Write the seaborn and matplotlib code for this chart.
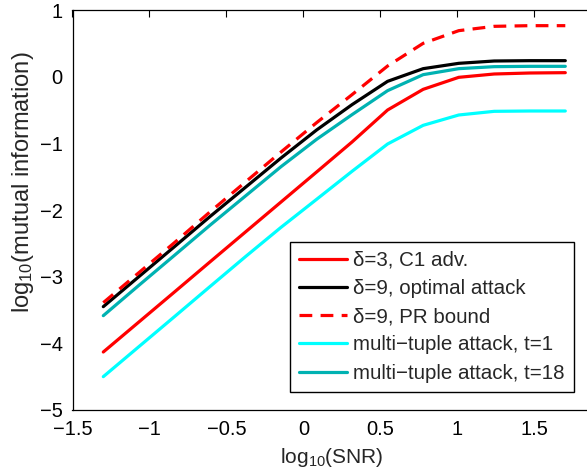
import numpy as np
import pandas as pd
import matplotlib
matplotlib.use("Agg")
import matplotlib.pyplot as plt
import seaborn as sns

# log10(SNR) grid shared by all curves
log_snr = [-1.3, -1.069, -0.838, -0.608, -0.377, -0.146, 0.085,
           0.315, 0.546, 0.777, 1.008, 1.238, 1.469, 1.7]

# log10(mutual information) for each scheme
c1_delta3 = [-4.13, -3.68, -3.23, -2.78, -2.33, -1.88, -1.43,
             -0.98, -0.50, -0.19, -0.01, 0.04, 0.055, 0.06]
opt_delta9 = [-3.45, -3.00, -2.55, -2.10, -1.66, -1.22, -0.80,
              -0.42, -0.07, 0.12, 0.20, 0.235, 0.24, 0.24]
pr_bound_delta9 = [-3.39, -2.94, -2.49, -2.03, -1.58, -1.13, -0.69,
                   -0.27, 0.16, 0.50, 0.69, 0.755, 0.765, 0.765]
multi_t1 = [-4.50, -4.05, -3.60, -3.15, -2.70, -2.26, -1.84,
            -1.42, -1.01, -0.73, -0.575, -0.52, -0.515, -0.515]
multi_t18 = [-3.585, -3.13, -2.68, -2.23, -1.79, -1.35, -0.94,
             -0.57, -0.21, 0.03, 0.12, 0.15, 0.155, 0.155]

labels = ["δ=3, C1 adv.", "δ=9, optimal attack", "δ=9, PR bound",
          "multi\u2212tuple attack, t=1", "multi\u2212tuple attack, t=18"]
series = [c1_delta3, opt_delta9, pr_bound_delta9, multi_t1, multi_t18]
colors = ["#ff0000", "#000000", "#ff0000", "#00ffff", "#00b2b2"]
dashed = [False, False, True, False, False]

sns.set_style("white")
plt.rcParams["font.family"] = ["Liberation Sans", "DejaVu Sans"]
plt.rcParams["mathtext.fontset"] = "custom"
plt.rcParams["mathtext.rm"] = "Liberation Sans"
plt.rcParams["mathtext.default"] = "regular"

df = pd.concat(
    [pd.DataFrame({"snr": log_snr, "mi": vals, "scheme": lab})
     for lab, vals in zip(labels, series)],
    ignore_index=True,
)

fig = plt.figure(figsize=(5.87, 4.70), dpi=100)
ax = fig.add_axes([72.5 / 587, 60 / 470, (592 - 72.5) / 587, 400 / 470])

lw = 2.3
for lab, col, dsh in zip(labels, colors, dashed):
    sub = df[df["scheme"] == lab]
    sns.lineplot(data=sub, x="snr", y="mi", ax=ax, color=col, lw=lw,
                 label=lab, sort=False, estimator=None)
    if dsh:
        ax.lines[-1].set_dashes((4.0, 2.6))

ax.set_xlim(-1.5, -1.5 + (592 - 72.5) / 154)
ax.set_ylim(-5, 1)
ax.set_xticks([-1.5, -1, -0.5, 0, 0.5, 1, 1.5])
ax.set_xticklabels(["\u22121.5", "\u22121", "\u22120.5", "0", "0.5", "1", "1.5"])
ax.set_yticks([-5, -4, -3, -2, -1, 0, 1])
ax.tick_params(direction="in", length=5, width=0.8, top=True, right=False,
               labelsize=14.5, colors="black", pad=7)
for s in ax.spines.values():
    s.set_color("black")
    s.set_linewidth(0.9)

ax.set_xlabel("log$_{10}$(SNR)", fontsize=15, labelpad=5)
ax.set_ylabel("log$_{10}$(mutual information)", fontsize=17)
ax.yaxis.set_label_coords(-0.07, 0.57)

leg = ax.legend(loc="lower right",
                bbox_to_anchor=(574 / 587, 1 - 392 / 470),
                bbox_transform=fig.transFigure,
                fontsize=14.8, frameon=True, fancybox=False, framealpha=1,
                edgecolor="black", borderaxespad=0, borderpad=0.45,
                handlelength=2.35, handletextpad=0.3, labelspacing=0.45)
leg.get_frame().set_linewidth(1.0)

fig.savefig("out.png", dpi=100)
